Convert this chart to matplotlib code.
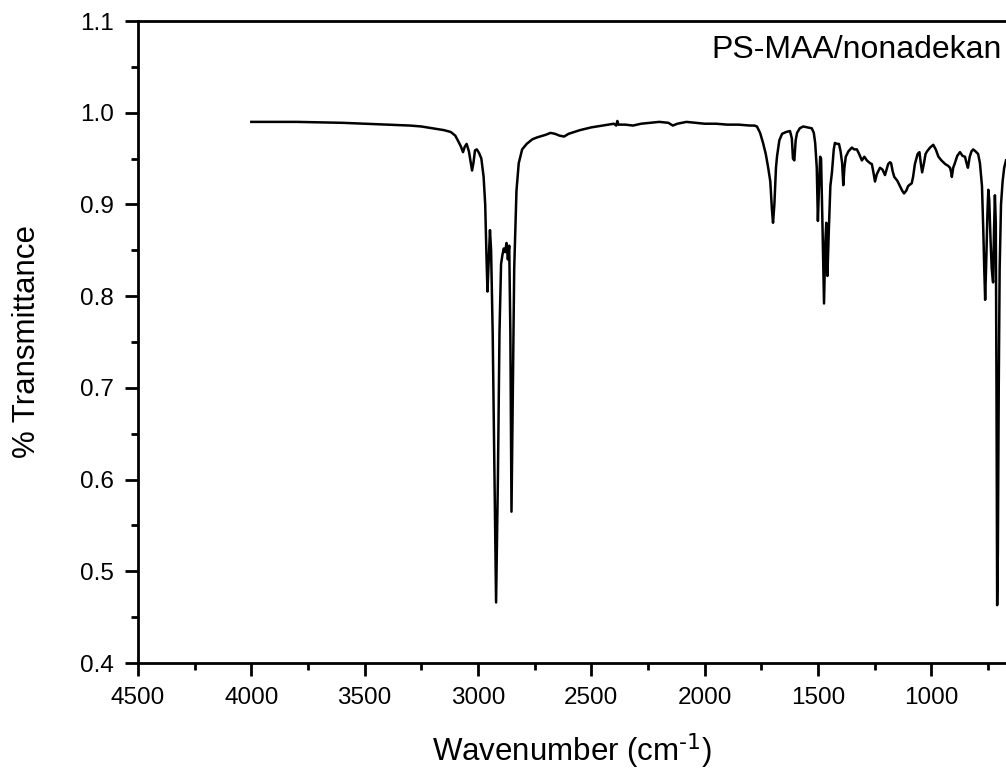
import numpy as np
import matplotlib
matplotlib.use("Agg")
from matplotlib import pyplot as plt

# IR spectrum (wavenumber in cm-1, transmittance)
wavenumber = [
    4000, 3900, 3800, 3700, 3600, 3500, 3400, 3300, 3250, 3200, 3150, 3120, 3100,
    3085, 3075, 3066, 3058, 3050, 3040, 3030, 3026, 3020, 3013, 3005, 2995, 2985,
    2975, 2968, 2962, 2958, 2952, 2947, 2942, 2935, 2928, 2920, 2912, 2905, 2898,
    2892, 2886, 2880, 2874, 2868, 2862, 2857, 2852, 2846, 2840, 2830, 2820, 2805,
    2785, 2760, 2740, 2700, 2680, 2660, 2640, 2620, 2600, 2550, 2500, 2450, 2400,
    2390, 2385, 2380, 2350, 2316, 2280, 2242, 2200, 2160, 2140, 2120, 2080, 2040,
    2000, 1950, 1900, 1850, 1800, 1780, 1769, 1755, 1742, 1730, 1720, 1710, 1703,
    1698, 1692, 1685, 1680, 1670, 1658, 1640, 1623, 1615, 1610, 1604, 1598, 1592,
    1580, 1565, 1545, 1527, 1518, 1512, 1505, 1500, 1495, 1490, 1486, 1480, 1473,
    1467, 1463, 1458, 1452, 1445, 1438, 1430, 1425, 1415, 1407, 1400, 1393, 1388,
    1383, 1377, 1365, 1350, 1340, 1328, 1318, 1306, 1295, 1284, 1270, 1262, 1255,
    1248, 1240, 1226, 1215, 1204, 1195, 1190, 1182, 1177, 1170, 1163, 1150, 1138,
    1128, 1120, 1110, 1102, 1092, 1086, 1080, 1072, 1060, 1052, 1046, 1040, 1032,
    1025, 1018, 1005, 991, 980, 968, 955, 938, 925, 917, 912, 909, 903, 897, 885,
    873, 862, 851, 844, 838, 830, 822, 815, 805, 793, 785, 776, 770, 766, 762, 758,
    752, 748, 744, 738, 733, 727, 723, 719, 715, 712, 709, 706, 702, 698, 692, 685,
    678, 670,
]
transmittance = [
    0.990, 0.990, 0.990, 0.9895, 0.989, 0.988, 0.987, 0.986, 0.985, 0.983, 0.981, 0.979, 0.975,
    0.968, 0.963, 0.957, 0.963, 0.966, 0.958, 0.943, 0.937, 0.945, 0.959, 0.960, 0.956, 0.950,
    0.930, 0.900, 0.840, 0.805, 0.840, 0.872, 0.850, 0.760, 0.620, 0.466, 0.600, 0.760, 0.835,
    0.845, 0.852, 0.848, 0.858, 0.840, 0.855, 0.760, 0.565, 0.700, 0.830, 0.915, 0.945, 0.960,
    0.966, 0.971, 0.973, 0.976, 0.978, 0.977, 0.975, 0.974, 0.977, 0.981, 0.984, 0.986, 0.988,
    0.986, 0.991, 0.987, 0.987, 0.986, 0.988, 0.989, 0.990, 0.989, 0.986, 0.988, 0.990, 0.989,
    0.988, 0.988, 0.987, 0.987, 0.986, 0.986, 0.985, 0.978, 0.967, 0.955, 0.941, 0.925, 0.895,
    0.880, 0.900, 0.940, 0.953, 0.970, 0.977, 0.979, 0.980, 0.972, 0.950, 0.948, 0.970, 0.978,
    0.983, 0.985, 0.984, 0.983, 0.978, 0.967, 0.940, 0.882, 0.920, 0.952, 0.950, 0.880, 0.792,
    0.860, 0.880, 0.822, 0.870, 0.920, 0.935, 0.960, 0.967, 0.966, 0.966, 0.958, 0.945, 0.921,
    0.940, 0.952, 0.958, 0.962, 0.960, 0.960, 0.955, 0.948, 0.952, 0.948, 0.945, 0.944, 0.935,
    0.925, 0.933, 0.940, 0.938, 0.932, 0.940, 0.944, 0.946, 0.945, 0.936, 0.930, 0.926, 0.920,
    0.915, 0.912, 0.915, 0.920, 0.922, 0.923, 0.930, 0.944, 0.955, 0.957, 0.945, 0.935, 0.945,
    0.955, 0.958, 0.962, 0.965, 0.960, 0.952, 0.948, 0.944, 0.942, 0.940, 0.935, 0.930, 0.940, 0.944, 0.953,
    0.957, 0.953, 0.952, 0.945, 0.940, 0.952, 0.958, 0.960, 0.958, 0.955, 0.945, 0.920, 0.870, 0.830, 0.796, 0.830,
    0.890, 0.916, 0.905, 0.860, 0.830, 0.815, 0.870, 0.910, 0.880, 0.700, 0.463, 0.520, 0.700, 0.830, 0.900, 0.925,
    0.940, 0.948,
]
sample_label = "PS-MAA/nonadekan"

plt.rcParams['font.family'] = ['Liberation Sans', 'DejaVu Sans']
plt.rcParams['mathtext.default'] = 'regular'

fig = plt.figure(figsize=(10.06, 7.73), dpi=100)
ax = fig.add_axes([138 / 1006, 1 - 663 / 773, 1 - 138 / 1006, (663 - 21) / 773])

ax.plot(wavenumber, transmittance, color="black", lw=1.8)

ax.set_xlim(4500, 670)
ax.set_ylim(0.4, 1.1)
ax.set_xticks([4500, 4000, 3500, 3000, 2500, 2000, 1500, 1000])
ax.set_xticks([4250, 3750, 3250, 2750, 2250, 1750, 1250, 750], minor=True)
ax.set_yticks(np.arange(0.4, 1.11, 0.1))
ax.set_yticks(np.arange(0.45, 1.1, 0.1), minor=True)
ax.yaxis.set_major_formatter(matplotlib.ticker.FormatStrFormatter('%.1f'))

for s in ['left', 'bottom', 'top']:
    ax.spines[s].set_linewidth(2.0)
ax.spines['right'].set_visible(False)
ax.tick_params(which='both', direction='out', width=2.0, labelsize=17.5, top=False, right=False)
ax.tick_params(which='major', length=9.5, pad=8)
ax.tick_params(which='minor', length=5)

ax.set_xlabel(r'Wavenumber (cm$^{\text{-1}}$)', fontsize=22.5, labelpad=16)
ax.set_ylabel('% Transmittance', fontsize=22.5, labelpad=27)

ax.text(0.995, 0.955, sample_label, transform=ax.transAxes, fontsize=23,
        ha='right', va='center')

plt.savefig('out.png', dpi=100)
